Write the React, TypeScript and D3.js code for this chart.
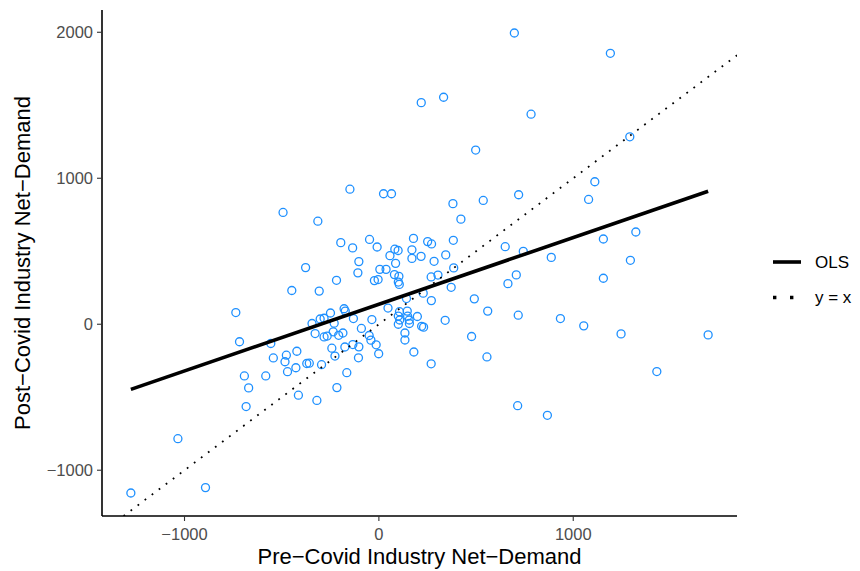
import React from "react";
import * as d3 from "d3";

// Pre-Covid (x) and Post-Covid (y) industry net-demand
const preCovid: number[] = [
  697, 1191, 218, 333, 783, 498, 1291, 1111, 719, 1079, 537, -149, 24, 65, 381, 422, -493, -314,
  650, 743, 887, 1155, 1322, 1294, 707, 664, 1155, 491, 560, 717, 934, 1054, 1246, 1694, 477, 556, 714, 867, 1430,
  -1276, -1034, -892,
  -377, -448, -736, -196, -135, -103, -108, -218, -307, -249, -179, -173, -302, -282, -344, -131,
  -48, -9, 178, 251, 271, 383, 82, 99, 170, 57, 170, 217, 344, 284, 5, 37, 86,
  -23, -4, 80, 103, 100, 105, 269, 304, 385, 372, 228, 270, 142,
  47, 106, 100, 146, 148, 156, 107, 100, 157, 198, 220, 230, 134, 134, 180, 341,
  269, -36, -90, -50, -41, -14, -1, -103, -105, -134, -175, -242, -226, -422, -235, -207, -185, -282, -266, -328,
  -556, -717, -543, -476, -483, -427, -470, -692, -582, -670, -683, -414, -371, -358, -295, -319, -216, -165,
  -230,
];
const postCovid: number[] = [
  1995, 1856, 1518, 1555, 1439, 1193, 1284, 976, 887, 855, 848, 925, 894, 894, 826, 720, 766, 706,
  531, 499, 458, 584, 632, 438, 338, 278, 315, 174, 90, 62, 39, -11, -66, -73, -84, -224, -558, -624, -324,
  -1156, -784, -1119,
  388, 231, 80, 559, 523, 429, 352, 301, 227, 77, 106, 90, 36, 41, 5, 39,
  581, 529, 588, 566, 550, 575, 514, 505, 510, 470, 451, 465, 475, 431, 376, 376, 417,
  299, 306, 340, 328, 289, 273, 324, 337, 386, 253, 213, 162, 176,
  111, 86, 56, 90, 55, 29, 29, 0, 5, 53, -14, -20, -60, -108, -190, 27,
  -271, 32, -29, -77, -109, -141, -202, -155, -230, -139, -156, -164, -218, -185, -52, -76, -60, -87, -81, -64,
  -132, -120, -231, -212, -257, -298, -325, -354, -354, -436, -564, -486, -269, -267, -277, -522, -434, -332,
  7,
];
const xTicks: number[] = [-1000, 0, 1000];
const yTicks: number[] = [-1000, 0, 1000, 2000];
const legendLabels: string[] = ["OLS", "y = x"];
const xTitle = "Pre\u2212Covid Industry Net\u2212Demand";
const yTitle = "Post\u2212Covid Industry Net\u2212Demand";

const W = 860;
const H = 571;
const panel = { left: 102, right: 737, top: 10, bottom: 516 };
const fmt = (v: number) => (v < 0 ? "\u2212" + Math.abs(v) : String(v));

export default function App() {
  const points = preCovid.map((x, i) => ({ x, y: postCovid[i] }));
  const xExt = d3.extent(preCovid) as [number, number];
  const yExt = d3.extent(postCovid) as [number, number];
  const xPad = (xExt[1] - xExt[0]) * 0.05;
  const yPad = (yExt[1] - yExt[0]) * 0.05;
  const x = d3.scaleLinear().domain([xExt[0] - xPad, xExt[1] + xPad]).range([panel.left, panel.right]);
  const y = d3.scaleLinear().domain([yExt[0] - yPad, yExt[1] + yPad]).range([panel.bottom, panel.top]);

  // OLS fit
  const mx = d3.mean(preCovid) as number;
  const my = d3.mean(postCovid) as number;
  let sxy = 0, sxx = 0;
  points.forEach((p) => { sxy += (p.x - mx) * (p.y - my); sxx += (p.x - mx) * (p.x - mx); });
  const slope = sxy / sxx;
  const intercept = my - slope * mx;
  const ols = d3.line<number>().x((v) => x(v)).y((v) => y(intercept + slope * v));
  const [dx0, dx1] = x.domain();
  const [dy0, dy1] = y.domain();
  const idLo = Math.max(dx0, dy0);
  const idHi = Math.min(dx1, dy1);
  const idLine = d3.line<number>().x((v) => x(v)).y((v) => y(v));

  const font = "'Liberation Sans', Arial, Helvetica, sans-serif";
  return (
    <svg width={W} height={H} style={{ position: "absolute", left: 0, top: 0, background: "#fff" }} fontFamily={font}>
      <defs>
        <clipPath id="pclip">
          <rect x={panel.left} y={panel.top} width={panel.right - panel.left} height={panel.bottom - panel.top} />
        </clipPath>
      </defs>
      <g clipPath="url(#pclip)">
        {points.map((p, i) => (
          <circle key={i} cx={x(p.x)} cy={y(p.y)} r={4} fill="none" stroke="#1E90FF" strokeWidth={1.3} />
        ))}
        <path d={ols(xExt) || ""} stroke="#000" strokeWidth={3.6} fill="none" />
        <path d={idLine([idLo, idHi]) || ""} stroke="#000" strokeWidth={1.8} strokeDasharray="1.8 7" fill="none" />
      </g>
      {/* axes */}
      <line x1={panel.left} x2={panel.right} y1={panel.bottom} y2={panel.bottom} stroke="#000" strokeWidth={1.6} />
      <line x1={panel.left} x2={panel.left} y1={panel.top} y2={panel.bottom} stroke="#000" strokeWidth={1.6} />
      {xTicks.map((t) => (
        <g key={t}>
          <line x1={x(t)} x2={x(t)} y1={panel.bottom} y2={panel.bottom + 5} stroke="#333" strokeWidth={1.1} />
          <text x={x(t)} y={panel.bottom + 24} textAnchor="middle" fontSize={16.5} fill="#4D4D4D">{fmt(t)}</text>
        </g>
      ))}
      {yTicks.map((t) => (
        <g key={t}>
          <line x1={panel.left - 5} x2={panel.left} y1={y(t)} y2={y(t)} stroke="#333" strokeWidth={1.1} />
          <text x={panel.left - 9} y={y(t) + 6} textAnchor="end" fontSize={16.5} fill="#4D4D4D">{fmt(t)}</text>
        </g>
      ))}
      <text x={(panel.left + panel.right) / 2} y={564} textAnchor="middle" fontSize={22} fill="#000">{xTitle}</text>
      <text transform={`translate(30,${(panel.top + panel.bottom) / 2}) rotate(-90)`} textAnchor="middle" fontSize={22} fill="#000">{yTitle}</text>
      {/* legend */}
      <line x1={773} x2={801} y1={262} y2={262} stroke="#000" strokeWidth={3.6} />
      <text x={815} y={268} fontSize={17} fill="#000">{legendLabels[0]}</text>
      <line x1={773} x2={801} y1={297.5} y2={297.5} stroke="#000" strokeWidth={3.4} strokeDasharray="3.4 13.6" />
      <text x={815} y={303} fontSize={17} fill="#000">{legendLabels[1]}</text>
    </svg>
  );
}
